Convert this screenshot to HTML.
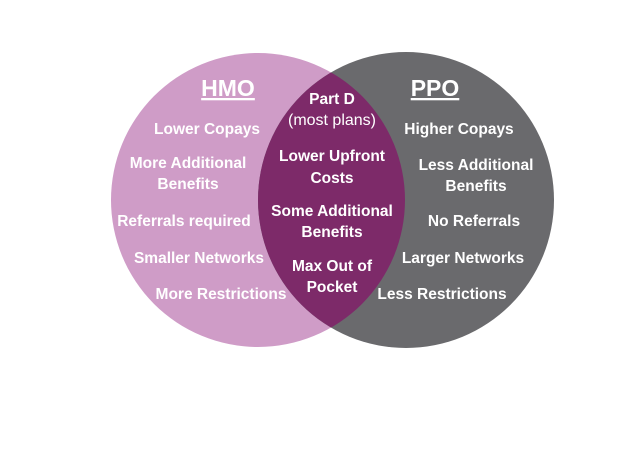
<!DOCTYPE html>
<html><head><meta charset="utf-8"><style>
html,body{margin:0;padding:0;background:#fff;}
svg{display:block}
text{font-family:"Liberation Sans",sans-serif;font-weight:bold;fill:#fff;text-anchor:middle;font-size:15.5px}
</style></head><body>
<svg width="642" height="450" viewBox="0 0 642 450">
<defs><clipPath id="c"><circle cx="258" cy="200" r="147"/></clipPath></defs>
<circle cx="258" cy="200" r="147" fill="#cf9cc7"/>
<circle cx="406" cy="200" r="148" fill="#6a6a6d"/>
<circle cx="406" cy="200" r="148" fill="#7d2a69" clip-path="url(#c)"/>
<text x="228" y="96" style="font-size:23px;text-decoration:underline">HMO</text>
<text x="435" y="96" style="font-size:23px;text-decoration:underline">PPO</text>
<text x="332" y="104">Part D</text>
<text x="332" y="125" style="font-weight:normal;font-size:16px">(most plans)</text>
<text x="332" y="161">Lower Upfront</text>
<text x="332" y="183">Costs</text>
<text x="332" y="216">Some Additional</text>
<text x="332" y="237">Benefits</text>
<text x="332" y="271">Max Out of</text>
<text x="332" y="292">Pocket</text>
<text x="207" y="134">Lower Copays</text>
<text x="188" y="168">More Additional</text>
<text x="188" y="189">Benefits</text>
<text x="184" y="226">Referrals required</text>
<text x="199" y="263">Smaller Networks</text>
<text x="221" y="299">More Restrictions</text>
<text x="459" y="134">Higher Copays</text>
<text x="476" y="170">Less Additional</text>
<text x="476" y="191">Benefits</text>
<text x="474" y="226">No Referrals</text>
<text x="463" y="263">Larger Networks</text>
<text x="442" y="299">Less Restrictions</text>
</svg>
</body></html>
